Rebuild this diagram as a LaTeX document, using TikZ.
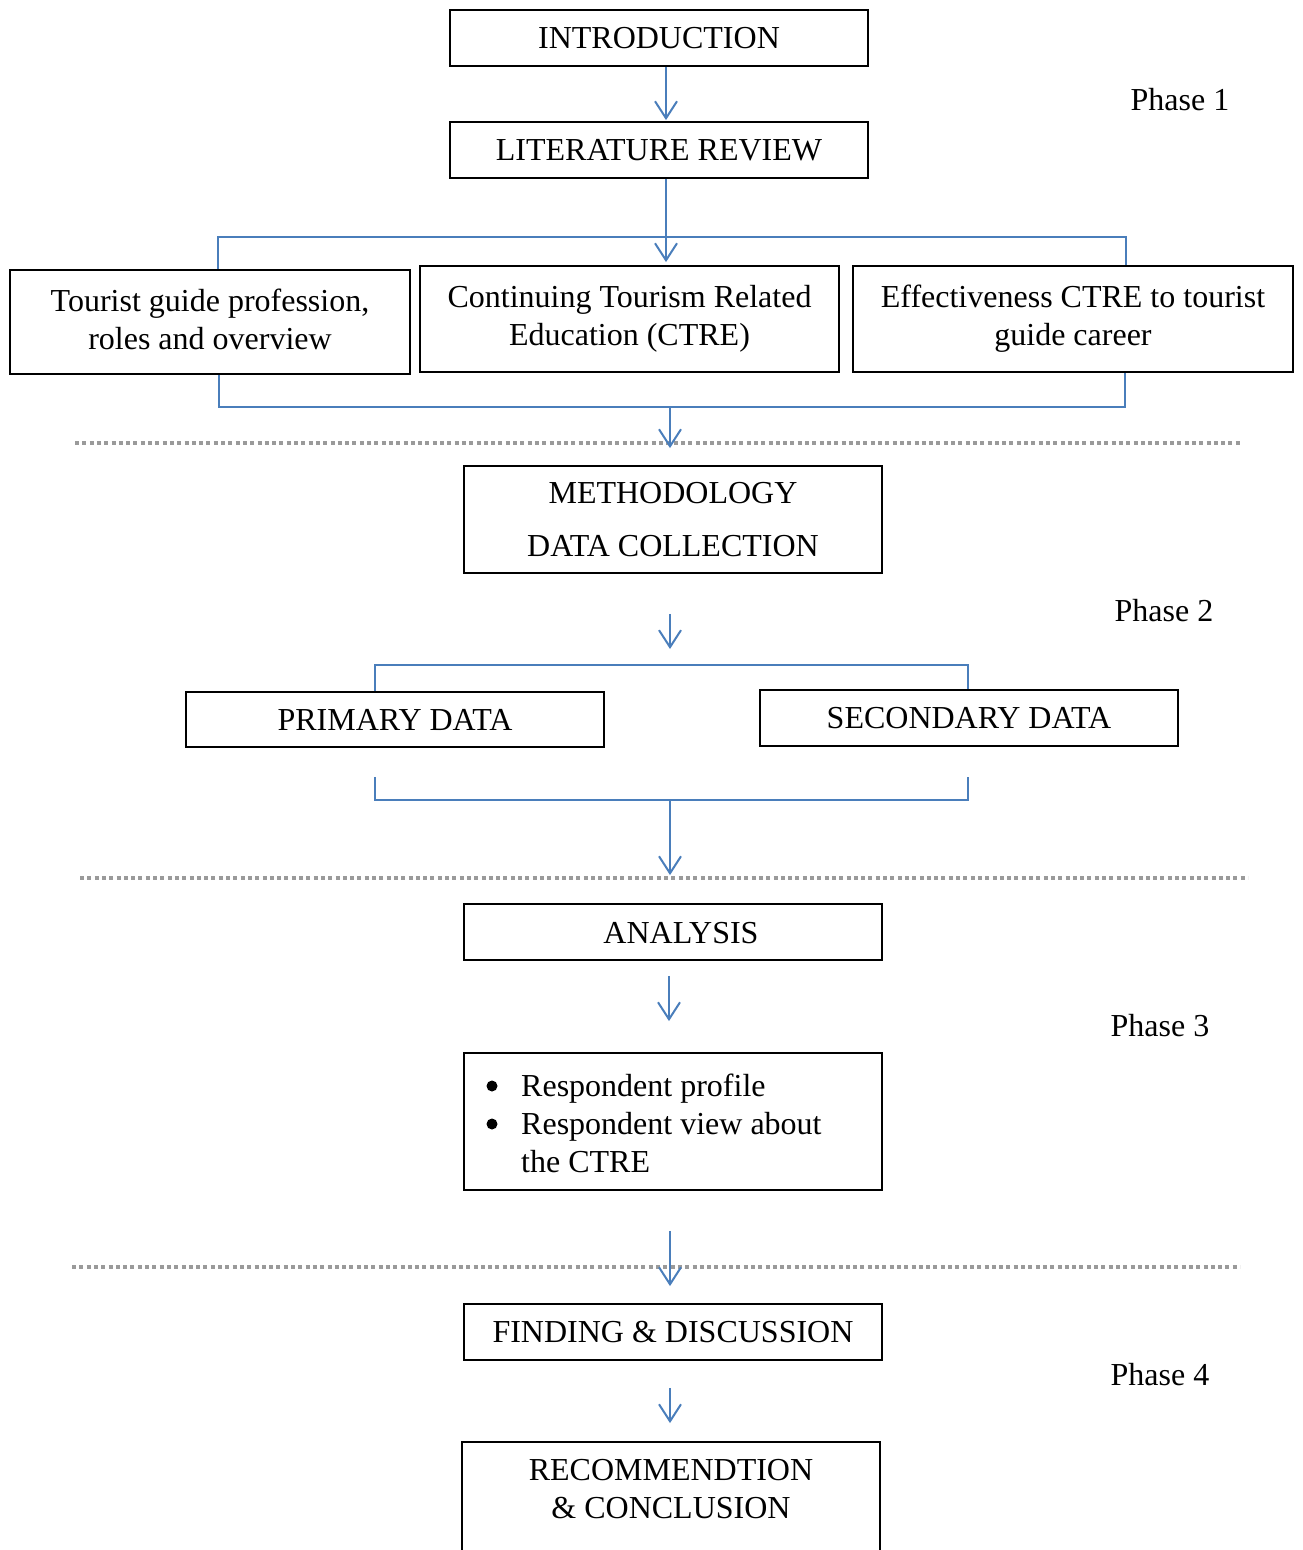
\documentclass[tikz,border=0pt]{standalone}
\usepackage{fontspec}
\setmainfont{Liberation Serif}
\usetikzlibrary{arrows.meta}
\definecolor{lineblue}{HTML}{4A7EBB}
\definecolor{dotgray}{HTML}{9A9A9A}
\begin{document}
\begin{tikzpicture}[x=1pt,y=-1pt,
  every node/.style={font=\fontsize{32}{38}\selectfont},
  box/.style={draw=black, line width=1.8pt, inner sep=0pt, align=center},
  bl/.style={draw=lineblue, line width=2pt},
  arr/.style={draw=lineblue, line width=2pt, -{Straight Barb[length=17pt,width=22pt,line width=2pt]}},
  dotline/.style={draw=dotgray, line width=4.2pt, dash pattern=on 4pt off 3.3pt}
]
\useasboundingbox (0,0) rectangle (1303,1550);
\clip (0,0) rectangle (1303,1550);

% boxes
\node[box, minimum width=418pt, minimum height=56pt] (intro) at (659,38) {INTRODUCTION};
\node[box, minimum width=418pt, minimum height=56pt] (lit) at (659,150) {LITERATURE REVIEW};
\node[box, minimum width=400pt, minimum height=104pt] (t1) at (210,322) {};
\node[inner sep=0pt, align=center] (t1text) at (210,319) {Tourist guide profession,\\roles and overview};
\node[box, minimum width=419pt, minimum height=106pt] (t2) at (629.5,319) {Continuing Tourism Related\\Education (CTRE)};
\node[box, minimum width=440pt, minimum height=106pt] (t3) at (1073,319) {Effectiveness CTRE to tourist\\guide career};
\node[box, minimum width=418pt, minimum height=107pt] (meth) at (673,519.5) {METHODOLOGY\\[15pt]DATA COLLECTION};
\node[box, minimum width=418pt, minimum height=55pt] (prim) at (395,719.5) {PRIMARY DATA};
\node[box, minimum width=418pt, minimum height=56pt] (sec) at (969,718) {SECONDARY DATA};
\node[box, minimum width=418pt, minimum height=56pt] (anal) at (673,932) {};
\node[inner sep=0pt] (analtext) at (681,933) {ANALYSIS};
\node[box, minimum width=418pt, minimum height=137pt] (bul) at (673,1121.5) {};
\node[inner sep=0pt, anchor=west, align=left] (bultext) at (521,1123)
  {Respondent profile\\
   Respondent view about\\
   the CTRE};
\fill (492,1086) circle (5.5);
\fill (492,1124) circle (5.5);
\node[box, minimum width=418pt, minimum height=56pt] (find) at (673,1332) {FINDING \& DISCUSSION};
\node[box, minimum width=418pt, minimum height=160pt] (rec) at (671,1522) {};
\node[inner sep=0pt, align=center] (rectext) at (671,1489) {RECOMMENDTION\\\& CONCLUSION};

% phase labels
\node (p1) at (1180,100) {Phase 1};
\node (p2) at (1164,611) {Phase 2};
\node (p3) at (1160,1026) {Phase 3};
\node (p4) at (1160,1375) {Phase 4};

% dotted separators
\draw[dotline] (75,443) -- (1242,443);
\draw[dotline] (80,878) -- (1248,878);
\draw[dotline] (72,1267) -- (1240,1267);

% coordinates
\coordinate (x1) at (666,0);
\coordinate (bL) at (218,237);
\coordinate (bR) at (1126,237);
\coordinate (cL) at (219,407);
\coordinate (cR) at (1125,407);
\coordinate (x2) at (670,407);
\coordinate (d1) at (670,665);
\coordinate (dL) at (375,665);
\coordinate (dR) at (968,665);
\coordinate (eL) at (375,800);
\coordinate (eR) at (968,800);
\coordinate (e2) at (670,800);
\coordinate (x3) at (669,0);
\coordinate (x4) at (670,0);

% connectors
\draw[arr] (intro.south -| x1) -- ([yshift=1pt]lit.north -| x1);
\draw[bl] (t1.north -| bL) -- (bL) -- (bR) -- (t3.north -| bR);
\draw[arr] (lit.south -| x1) -- ([yshift=3pt]t2.north -| x1);
\draw[bl] (t1.south -| cL) -- (cL) -- (cR) -- (t3.south -| cR);
\draw[arr] (x2) -- ([yshift=17pt]meth.north -| x2);
\draw[arr] ([yshift=-40pt]meth.south -| x2) -- ([yshift=16pt]d1);
\draw[bl] (prim.north -| dL) -- (dL) -- (dR) -- (sec.north -| dR);
\draw[bl] ([yshift=-29pt]prim.south -| eL) -- (eL) -- (eR) -- ([yshift=-30pt]sec.south -| eR);
\draw[arr] (e2) -- ([yshift=28pt]anal.north -| e2);
\draw[arr] ([yshift=-15pt]anal.south -| x3) -- ([yshift=31pt]bul.north -| x3);
\draw[arr] ([yshift=-40pt]bul.south -| x4) -- ([yshift=17pt]find.north -| x4);
\draw[arr] ([yshift=-27pt]find.south -| x4) -- ([yshift=18pt]rec.north -| x4);
\end{tikzpicture}
\end{document}
